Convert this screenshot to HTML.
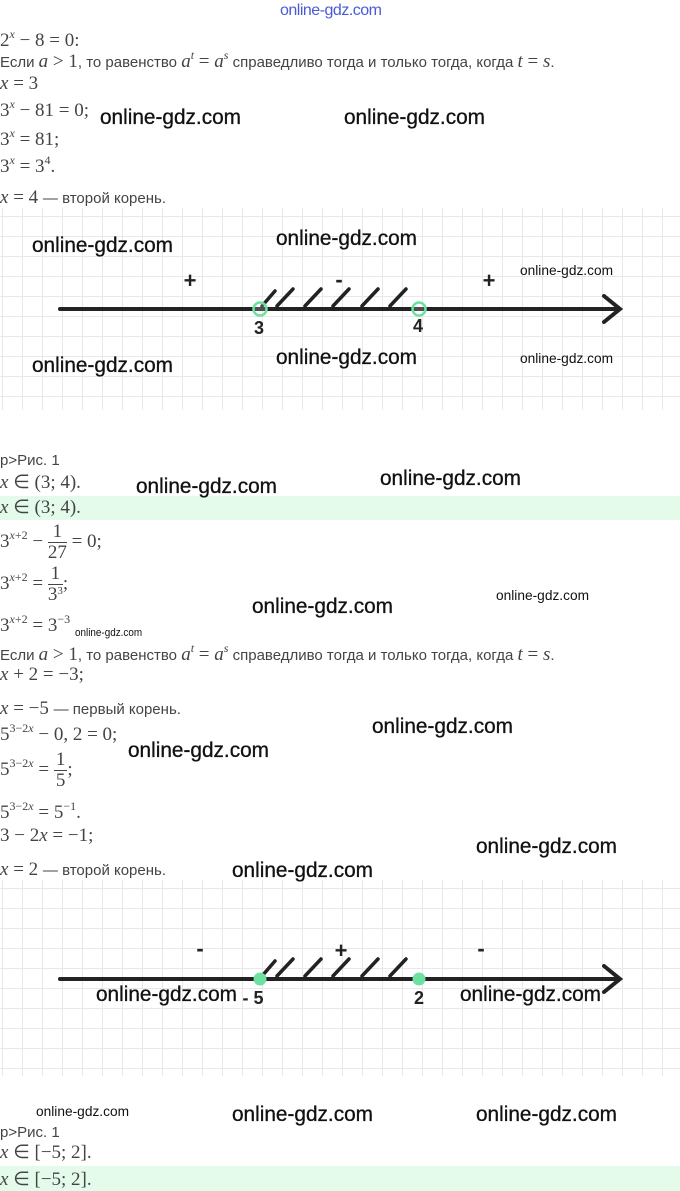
<!DOCTYPE html>
<html><head><meta charset="utf-8"><style>
body{margin:0;width:680px;height:1191px;background:#fff;position:relative;overflow:hidden;color:#333}
.a{position:absolute;white-space:nowrap;line-height:1}
.m{font-family:"Liberation Serif",serif;font-size:19px;color:#444}
.m i{font-style:italic}
.t{font-family:"Liberation Sans",sans-serif;font-size:15px;color:#444}
.w{font-family:"Liberation Sans",sans-serif;font-size:21px;color:#111;transform:scaleX(0.99);transform-origin:left;-webkit-text-stroke:0.3px #111}
.ws{font-family:"Liberation Sans",sans-serif;font-size:14px;color:#111;transform:scaleX(0.98);transform-origin:left}
sup{font-size:12px;vertical-align:8px}
.fr{display:inline-block;vertical-align:middle;text-align:center;line-height:1.05}
.fr span{display:block}
.fr .n{border-bottom:1px solid #444;padding:0 2px}
.band{position:absolute;left:0;width:680px;background:#e4fbec}
.grid{position:absolute;left:0;width:680px;background-color:#fff;background-image:linear-gradient(#e8e8e8 1px,transparent 1px),linear-gradient(90deg,#e8e8e8 1px,transparent 1px);background-size:20px 20px;background-position:2px 8px}
</style></head><body>
<div class="a" style="left:280px;top:3px;font-family:'Liberation Sans',sans-serif;font-size:16px;color:#4a5ad8;letter-spacing:-0.5px">online-gdz.com</div>
<div class="a m" style="left:0;top:28px">2<sup><i>x</i></sup> − 8 = 0:</div>
<div class="a t" style="left:0;top:49px">Если <span class="m"><i>a</i> &gt; 1</span>, то равенство <span class="m"><i>a</i><sup><i>t</i></sup> = <i>a</i><sup><i>s</i></sup></span> справедливо тогда и только тогда, когда <span class="m"><i>t</i> = <i>s</i></span>.</div>
<div class="a m" style="left:0;top:74px"><i>x</i> = 3</div>
<div class="a m" style="left:0;top:98px">3<sup><i>x</i></sup> − 81 = 0;</div>
<div class="a m" style="left:0;top:127px">3<sup><i>x</i></sup> = 81;</div>
<div class="a m" style="left:0;top:154px">3<sup><i>x</i></sup> = 3<sup>4</sup>.</div>
<div class="a m" style="left:0;top:188px"><i>x</i> = 4 <span class="t">— второй корень.</span></div>
<div class="a w" style="left:100px;top:107px">online-gdz.com</div>
<div class="a w" style="left:344px;top:107px">online-gdz.com</div>

<div class="grid" style="top:208px;height:202px"></div>
<svg class="a" style="left:0;top:0" width="680" height="1191">
<g stroke="#222" stroke-width="4" stroke-linecap="round" fill="none">
<line x1="60" y1="309" x2="618" y2="309"/>
<polyline points="604,296 620,309 604,322"/>
<g stroke-width="3.5"><line x1="262" y1="306" x2="275" y2="291"/><line x1="277" y1="306" x2="293" y2="289"/><line x1="305" y1="306" x2="321" y2="289"/><line x1="333" y1="306" x2="349" y2="289"/><line x1="362" y1="306" x2="378" y2="289"/><line x1="390" y1="306" x2="406" y2="289"/></g>
<line x1="60" y1="979" x2="618" y2="979"/>
<polyline points="604,966 620,979 604,992"/>
<g stroke-width="3.5"><line x1="262" y1="976" x2="275" y2="961"/><line x1="277" y1="976" x2="293" y2="959"/><line x1="305" y1="976" x2="321" y2="959"/><line x1="333" y1="976" x2="349" y2="959"/><line x1="362" y1="976" x2="378" y2="959"/><line x1="390" y1="976" x2="406" y2="959"/></g>
</g>
<circle cx="260" cy="309" r="6.5" fill="#fff" fill-opacity="0.2" stroke="#6ee0a0" stroke-width="2.5"/>
<circle cx="419" cy="309" r="6.5" fill="#fff" fill-opacity="0.2" stroke="#6ee0a0" stroke-width="2.5"/>
<circle cx="260" cy="979" r="6.5" fill="#6ee0a0"/>
<circle cx="419" cy="979" r="6.5" fill="#6ee0a0"/>
<g font-family="Liberation Sans,sans-serif" font-size="18" fill="#222" font-weight="bold" text-anchor="middle">
<text x="259" y="334">3</text><text x="418" y="332">4</text>
<text x="190" y="288" font-size="22">+</text><text x="339" y="287" font-size="22">-</text><text x="489" y="288" font-size="22">+</text>
<text x="200" y="956" font-size="22">-</text><text x="341" y="958" font-size="22">+</text><text x="481" y="956" font-size="22">-</text>
<text x="253" y="1004">- 5</text><text x="419" y="1004">2</text>
</g>
</svg>
<div class="a w" style="left:32px;top:235px">online-gdz.com</div>
<div class="a w" style="left:276px;top:228px">online-gdz.com</div>
<div class="a ws" style="left:520px;top:263px">online-gdz.com</div>
<div class="a w" style="left:32px;top:355px">online-gdz.com</div>
<div class="a w" style="left:276px;top:347px">online-gdz.com</div>
<div class="a ws" style="left:520px;top:351px">online-gdz.com</div>

<div class="a t" style="left:0;top:453px">p&gt;Рис. 1</div>
<div class="a m" style="left:0;top:473px"><i>x</i> ∈ (3; 4).</div>
<div class="band" style="top:496px;height:24px"></div>
<div class="a m" style="left:0;top:498px"><i>x</i> ∈ (3; 4).</div>
<div class="a m" style="left:0;top:522px">3<sup><i>x</i>+2</sup> − <span class="fr"><span class="n">1</span><span>27</span></span> = 0;</div>
<div class="a m" style="left:0;top:564px">3<sup><i>x</i>+2</sup> = <span class="fr"><span class="n">1</span><span>3<sup style="font-size:11px;vertical-align:6px">3</sup></span></span>;</div>
<div class="a m" style="left:0;top:613px">3<sup><i>x</i>+2</sup> = 3<sup>−3</sup></div>
<div class="a" style="left:75px;top:628px;font-family:'Liberation Sans',sans-serif;font-size:11px;transform:scaleX(0.9);transform-origin:left;color:#111">online-gdz.com</div>
<div class="a t" style="left:0;top:642px">Если <span class="m"><i>a</i> &gt; 1</span>, то равенство <span class="m"><i>a</i><sup><i>t</i></sup> = <i>a</i><sup><i>s</i></sup></span> справедливо тогда и только тогда, когда <span class="m"><i>t</i> = <i>s</i></span>.</div>
<div class="a m" style="left:0;top:665px"><i>x</i> + 2 = −3;</div>
<div class="a m" style="left:0;top:699px"><i>x</i> = −5 <span class="t">— первый корень.</span></div>
<div class="a m" style="left:0;top:722px">5<sup>3−2<i>x</i></sup> − 0, 2 = 0;</div>
<div class="a m" style="left:0;top:750px">5<sup>3−2<i>x</i></sup> = <span class="fr"><span class="n">1</span><span>5</span></span>;</div>
<div class="a m" style="left:0;top:800px">5<sup>3−2<i>x</i></sup> = 5<sup>−1</sup>.</div>
<div class="a m" style="left:0;top:826px">3 − 2<i>x</i> = −1;</div>
<div class="a m" style="left:0;top:860px"><i>x</i> = 2 <span class="t">— второй корень.</span></div>
<div class="a w" style="left:136px;top:476px">online-gdz.com</div>
<div class="a w" style="left:380px;top:468px">online-gdz.com</div>
<div class="a w" style="left:252px;top:596px">online-gdz.com</div>
<div class="a ws" style="left:496px;top:588px">online-gdz.com</div>
<div class="a w" style="left:372px;top:716px">online-gdz.com</div>
<div class="a w" style="left:128px;top:740px">online-gdz.com</div>
<div class="a w" style="left:476px;top:836px">online-gdz.com</div>

<div class="grid" style="top:880px;height:196px;z-index:-1"></div>
<div class="a w" style="left:232px;top:860px">online-gdz.com</div>
<div class="a w" style="left:96px;top:984px">online-gdz.com</div>
<div class="a w" style="left:460px;top:984px">online-gdz.com</div>

<div class="a ws" style="left:36px;top:1104px">online-gdz.com</div>
<div class="a w" style="left:232px;top:1104px">online-gdz.com</div>
<div class="a w" style="left:476px;top:1104px">online-gdz.com</div>
<div class="a t" style="left:0;top:1125px">p&gt;Рис. 1</div>
<div class="a m" style="left:0;top:1143px"><i>x</i> ∈ [−5; 2].</div>
<div class="band" style="top:1166px;height:25px"></div>
<div class="a m" style="left:0;top:1170px"><i>x</i> ∈ [−5; 2].</div>
</body></html>
